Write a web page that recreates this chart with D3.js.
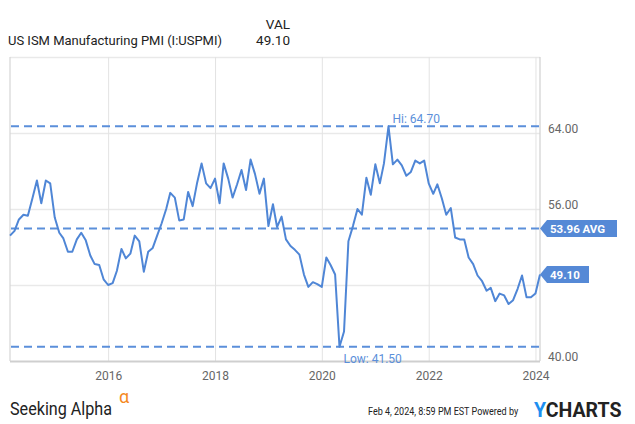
<!DOCTYPE html>
<html>
<head>
<meta charset="utf-8">
<script src="https://cdn.jsdelivr.net/npm/d3@7"></script>
<style>
  html, body { margin: 0; padding: 0; background: #fff; }
  svg { display: block; }
  text { font-family: Roboto, "Noto Sans", sans-serif; }
</style>
</head>
<body>
<svg id="chart" width="635" height="424"></svg>
<script>
// ---- data (monthly, Feb 2014 .. Jan 2024) ----
const seriesName = "US ISM Manufacturing PMI (I:USPMI)";
const firstYear = 2014, firstMonth = 1; // Feb 2014 (0-based month)
const pmiValues = [
  53.2, 53.7, 54.9, 55.4, 55.3, 57.1, 59.0, 56.6, 59.0, 58.7, 55.1,
  53.5, 52.9, 51.5, 51.5, 52.8, 53.5, 52.7, 51.1, 50.2, 50.1, 48.6, 48.0,
  48.2, 49.5, 51.8, 50.8, 51.3, 53.2, 52.6, 49.4, 51.5, 51.9, 53.2, 54.5,
  56.0, 57.7, 57.2, 54.8, 54.9, 57.8, 56.3, 58.8, 60.8, 58.7, 58.2, 59.2,
  56.6, 60.8, 59.2, 57.2, 58.6, 60.1, 58.0, 61.2, 59.7, 57.6, 59.2, 54.2,
  56.5, 54.1, 55.2, 52.8, 52.1, 51.7, 51.2, 49.1, 47.8, 48.3, 48.1, 47.8,
  50.9, 50.1, 49.1, 41.5, 43.1, 52.6, 54.2, 56.0, 55.4, 59.3, 57.5, 60.7,
  58.7, 60.8, 64.7, 60.7, 61.2, 60.6, 59.5, 59.9, 61.1, 60.8, 61.1, 58.7,
  57.6, 58.6, 57.1, 55.4, 56.1, 53.0, 52.8, 52.8, 50.9, 50.2, 49.0, 48.4,
  47.4, 47.7, 46.3, 47.1, 46.9, 46.0, 46.4, 47.6, 49.0, 46.7, 46.7, 47.1,
  49.1
];
const hiValue = 64.70, lowValue = 41.50, avgValue = 53.96, lastValue = 49.10;
const xTickYears = [2016, 2018, 2020, 2022, 2024];
const yGridValues = [48, 56, 64, 72];
const yLabelValues = [40, 56, 64];
const yDomain = [40, 72];

// ---- build ----
const data = pmiValues.map((v, i) => ({
  date: new Date(firstYear, firstMonth + i + 1, 1), // month-end plotted
  value: v
}));

const svg = d3.select("#chart");
const L = 10, R = 540, T = 57, B = 361;
const blue = "#4f86d6", tagBlue = "#5589d6", dashBlue = "#5b8fda";

const x = d3.scaleTime()
  .domain([new Date(2014, 2, 1), new Date(2024, 1, 1)])
  .range([L, R]);
const y = d3.scaleLinear().domain(yDomain).range([B, T]);

// horizontal grid
svg.append("g")
  .attr("transform", `translate(${L},0)`)
  .call(d3.axisRight(y).tickValues(yGridValues).tickSize(R - L).tickFormat(""))
  .call(g => g.select(".domain").remove())
  .call(g => g.selectAll("line").attr("stroke", "#e9e9e9").attr("stroke-width", 1.5));

// vertical grid
svg.append("g")
  .attr("transform", `translate(0,${B})`)
  .call(d3.axisBottom(x).tickValues(xTickYears.map(yr => new Date(yr, 0, 1))).tickSize(-(B - T)).tickFormat(""))
  .call(g => g.select(".domain").remove())
  .call(g => g.selectAll("line").attr("stroke", "#e3e3e3").attr("stroke-width", 1));

// borders
svg.append("line").attr("x1", L).attr("x2", L).attr("y1", T).attr("y2", B)
  .attr("stroke", "#d6d6d6").attr("stroke-width", 1.2);
svg.append("line").attr("x1", R).attr("x2", R).attr("y1", T).attr("y2", B)
  .attr("stroke", "#d0d0d0").attr("stroke-width", 1.2);
svg.append("line").attr("x1", L).attr("x2", R).attr("y1", B + 0.5).attr("y2", B + 0.5)
  .attr("stroke", "#cfcfcf").attr("stroke-width", 2);

// reference dashed lines
[hiValue, avgValue, lowValue].forEach(v => {
  svg.append("line")
    .attr("x1", L + 1).attr("x2", R)
    .attr("y1", y(v)).attr("y2", y(v))
    .attr("stroke", dashBlue).attr("stroke-width", 2)
    .attr("stroke-dasharray", "8,5");
});

// series line
svg.append("path")
  .datum(data)
  .attr("fill", "none")
  .attr("stroke", blue)
  .attr("stroke-width", 2)
  .attr("stroke-linejoin", "round")
  .attr("d", d3.line().x(d => x(d.date)).y(d => y(d.value)));

// hi / low labels
const hiPt = data.find(d => d.value === hiValue);
const lowPt = data.find(d => d.value === lowValue);
svg.append("text").attr("x", x(hiPt.date) + 4).attr("y", y(hiValue) - 3.5)
  .attr("font-size", 12).attr("fill", dashBlue).text("Hi: " + hiValue.toFixed(2));
svg.append("text").attr("x", x(lowPt.date) + 4).attr("y", y(lowValue) + 16.5)
  .attr("font-size", 12).attr("fill", dashBlue).text("Low: " + lowValue.toFixed(2));

// y axis labels (right)
svg.append("g")
  .attr("transform", `translate(${R + 6},0)`)
  .call(d3.axisRight(y).tickValues(yLabelValues).tickSize(0).tickFormat(d3.format(".2f")))
  .call(g => g.select(".domain").remove())
  .call(g => g.selectAll("text")
    .attr("font-family", "Roboto, sans-serif").attr("font-size", 12)
    .attr("fill", "#666").attr("dy", "-0.05em").attr("x", 2));

// x axis labels
svg.append("g")
  .attr("transform", `translate(0,${B})`)
  .call(d3.axisBottom(x).tickValues(xTickYears.map(yr => new Date(yr, 0, 1))).tickSize(0).tickFormat(d3.timeFormat("%Y")))
  .call(g => g.select(".domain").remove())
  .call(g => g.selectAll("text")
    .attr("font-family", "Roboto, sans-serif").attr("font-size", 12)
    .attr("fill", "#666").attr("dy", "1.12em").attr("y", 6));

// tags
function tag(v, label, w) {
  const cy = y(v), h = 17, ax = 7;
  svg.append("path")
    .attr("d", `M${R},${cy} L${R + ax},${cy - h / 2} L${R + w},${cy - h / 2} L${R + w},${cy + h / 2} L${R + ax},${cy + h / 2} Z`)
    .attr("fill", tagBlue);
  svg.append("text").attr("x", R + 10).attr("y", cy + 4.3)
    .attr("font-size", 11.5).attr("font-weight", "bold").attr("fill", "#fff")
    .text(label);
}
tag(avgValue, avgValue.toFixed(2) + " AVG", 77);
tag(lastValue, lastValue.toFixed(2), 49);

// header
svg.append("text").attr("x", 8).attr("y", 44.5)
  .attr("font-size", 13.5).attr("fill", "#222").attr("textLength", 214).attr("lengthAdjust", "spacingAndGlyphs")
  .text(seriesName);
svg.append("text").attr("x", 290).attr("y", 28.5).attr("text-anchor", "end")
  .attr("font-size", 13.5).attr("fill", "#222").text("VAL");
svg.append("text").attr("x", 290).attr("y", 44.5).attr("text-anchor", "end")
  .attr("font-size", 13.5).attr("fill", "#222").text(lastValue.toFixed(2));

// footer (condensed via horizontal scale)
svg.append("text")
  .attr("transform", "translate(10,415) scale(0.85,1)")
  .attr("font-family", "'Liberation Sans', Arial, sans-serif")
  .attr("font-size", 19).attr("fill", "#222")
  .text("Seeking Alpha");
svg.append("text").attr("x", 119).attr("y", 403)
  .attr("font-family", "'DejaVu Sans', sans-serif")
  .attr("font-size", 18).attr("fill", "#f5891f").text("α");
svg.append("text")
  .attr("transform", "translate(368,415) scale(0.805,1)")
  .attr("font-family", "'Liberation Sans', Arial, sans-serif")
  .attr("font-size", 11.2).attr("fill", "#222")
  .text("Feb 4, 2024, 8:59 PM EST Powered by");
const yc = svg.append("text").attr("x", 534).attr("y", 417)
  .attr("font-family", "'Liberation Sans', Arial, sans-serif")
  .attr("font-size", 19.5).attr("font-weight", "bold");
yc.append("tspan").attr("fill", "#1d8ff0").text("Y");
yc.append("tspan").attr("fill", "#222").text("CHARTS");
</script>
</body>
</html>
